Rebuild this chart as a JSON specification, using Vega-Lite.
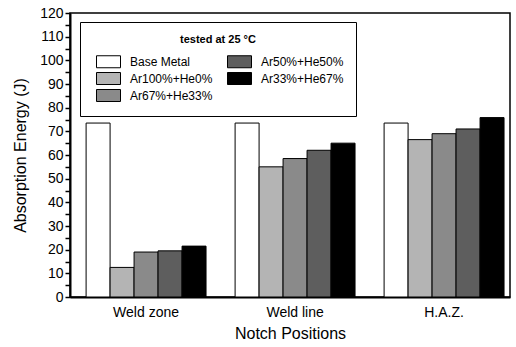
{
  "$schema": "https://vega.github.io/schema/vega-lite/v6.json",
  "width": 440,
  "height": 284,
  "autosize": {"type": "none"},
  "padding": {"left": 70, "top": 13, "right": 6, "bottom": 50},
  "background": "white",
  "config": {
    "font": "Liberation Sans",
    "view": {"stroke": "black", "strokeWidth": 1.5},
    "axis": {"domainColor": "black", "tickColor": "black", "labelColor": "black", "titleColor": "black", "grid": false}
  },
  "data": {
    "values": [
      {"position": "Weld zone", "gas": "Base Metal", "energy": 73.5},
      {"position": "Weld zone", "gas": "Ar100%+He0%", "energy": 12.5},
      {"position": "Weld zone", "gas": "Ar67%+He33%", "energy": 19},
      {"position": "Weld zone", "gas": "Ar50%+He50%", "energy": 19.5},
      {"position": "Weld zone", "gas": "Ar33%+He67%", "energy": 21.5},
      {"position": "Weld line", "gas": "Base Metal", "energy": 73.5},
      {"position": "Weld line", "gas": "Ar100%+He0%", "energy": 55},
      {"position": "Weld line", "gas": "Ar67%+He33%", "energy": 58.5},
      {"position": "Weld line", "gas": "Ar50%+He50%", "energy": 62},
      {"position": "Weld line", "gas": "Ar33%+He67%", "energy": 65},
      {"position": "H.A.Z.", "gas": "Base Metal", "energy": 73.5},
      {"position": "H.A.Z.", "gas": "Ar100%+He0%", "energy": 66.5},
      {"position": "H.A.Z.", "gas": "Ar67%+He33%", "energy": 69},
      {"position": "H.A.Z.", "gas": "Ar50%+He50%", "energy": 71},
      {"position": "H.A.Z.", "gas": "Ar33%+He67%", "energy": 75.8}
    ]
  },
  "mark": {"type": "bar", "stroke": "black", "strokeWidth": 1},
  "encoding": {
    "x": {
      "field": "position",
      "type": "nominal",
      "sort": ["Weld zone", "Weld line", "H.A.Z."],
      "scale": {"paddingInner": 0.195, "paddingOuter": 0.074, "align": 0.73},
      "axis": {
        "title": "Notch Positions",
        "titleFontSize": 16,
        "titleFontWeight": "normal",
        "titlePadding": 6,
        "labelAngle": 0,
        "labelFontSize": 14,
        "labelPadding": 8,
        "ticks": false,
        "domainWidth": 2
      }
    },
    "xOffset": {
      "field": "gas",
      "type": "nominal",
      "sort": ["Base Metal", "Ar100%+He0%", "Ar67%+He33%", "Ar50%+He50%", "Ar33%+He67%"]
    },
    "y": {
      "field": "energy",
      "type": "quantitative",
      "scale": {"domain": [0, 120], "nice": false},
      "axis": {
        "title": "Absorption Energy (J)",
        "titleFontSize": 16,
        "titleFontWeight": "normal",
        "titlePadding": 11,
        "values": [0, 5, 10, 15, 20, 25, 30, 35, 40, 45, 50, 55, 60, 65, 70, 75, 80, 85, 90, 95, 100, 105, 110, 115, 120],
        "labelExpr": "datum.value % 10 == 0 ? datum.label : ''",
        "labelFontSize": 14,
        "labelPadding": 2,
        "tickSize": 5,
        "tickWidth": 1.5,
        "domainWidth": 2
      }
    },
    "color": {
      "field": "gas",
      "type": "nominal",
      "scale": {
        "domain": ["Base Metal", "Ar100%+He0%", "Ar67%+He33%", "Ar50%+He50%", "Ar33%+He67%"],
        "range": ["#ffffff", "#b4b4b4", "#8a8a8a", "#5e5e5e", "#000000"]
      },
      "legend": {
        "orient": "none",
        "legendX": 10,
        "legendY": 9,
        "columns": 2,
        "columnPadding": 10,
        "rowPadding": 0,
        "padding": 12,
        "strokeColor": "black",
        "fillColor": "white",
        "title": "tested at 25 °C",
        "titleFontSize": 11,
        "titleFontWeight": "bold",
        "titleAnchor": "middle",
        "titlePadding": 10,
        "labelFontSize": 12,
        "labelOffset": 15,
        "symbolOffset": 10,
        "symbolType": "M-2,-1H2V1H-2Z",
        "symbolSize": 144,
        "symbolStrokeColor": "black",
        "symbolStrokeWidth": 1,
        "symbolOpacity": 1
      }
    }
  }
}
